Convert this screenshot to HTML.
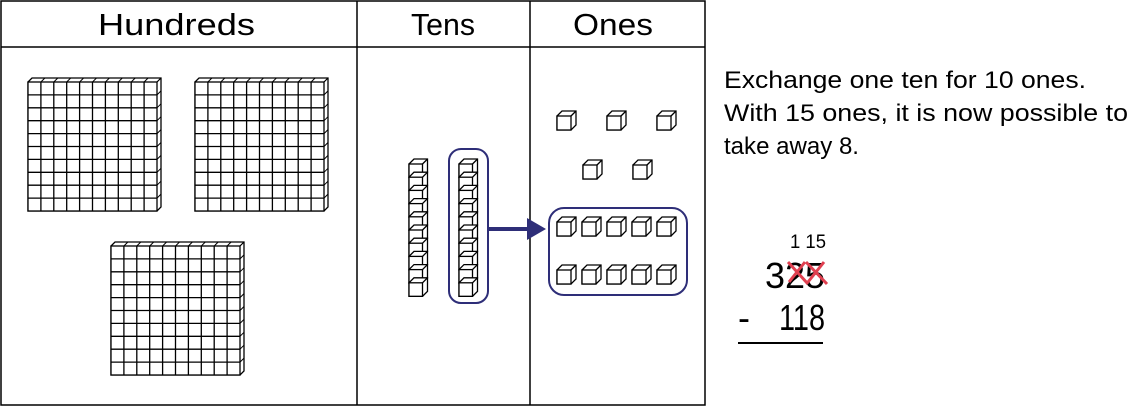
<!DOCTYPE html>
<html><head><meta charset="utf-8"><style>
html,body{margin:0;padding:0;background:#fff;width:1136px;height:406px;overflow:hidden}
svg{display:block}
text{font-family:"Liberation Sans",sans-serif;fill:#000}
</style></head><body>
<svg id="s" width="1136" height="406" viewBox="0 0 1136 406">
<rect x="1" y="1" width="704" height="404" fill="none" stroke="#000" stroke-width="1.5"/>
<line x1="1" y1="47" x2="705" y2="47" stroke="#000" stroke-width="1.5"/>
<line x1="357" y1="1" x2="357" y2="405" stroke="#000" stroke-width="1.5"/>
<line x1="530" y1="1" x2="530" y2="405" stroke="#000" stroke-width="1.5"/>
<text x="98" y="35" font-size="31" textLength="157" lengthAdjust="spacingAndGlyphs">Hundreds</text>
<text x="411" y="35" font-size="31" textLength="64" lengthAdjust="spacingAndGlyphs">Tens</text>
<text x="573" y="35" font-size="31" textLength="80" lengthAdjust="spacingAndGlyphs">Ones</text>
<rect x="449" y="149" width="39" height="154" rx="12" fill="none" stroke="#2e2e78" stroke-width="2"/>
<rect x="549" y="208" width="138" height="87" rx="15" fill="none" stroke="#2e2e78" stroke-width="2"/>
<line x1="488" y1="229" x2="530" y2="229" stroke="#2e2e78" stroke-width="4"/>
<polygon points="527,218 546,229 527,240" fill="#2e2e78"/>
<g id="g" fill="#fff" stroke="#000" stroke-width="1.3"></g>
<text x="724" y="88" font-size="24" textLength="362" lengthAdjust="spacingAndGlyphs">Exchange one ten for 10 ones.</text>
<text x="724" y="121" font-size="24" textLength="404" lengthAdjust="spacingAndGlyphs">With 15 ones, it is now possible to</text>
<text x="724" y="154" font-size="24" textLength="135" lengthAdjust="spacingAndGlyphs">take away 8.</text>
<text x="790" y="248" font-size="19" textLength="36" lengthAdjust="spacingAndGlyphs">1 15</text>
<text x="765" y="288" font-size="36" textLength="60" lengthAdjust="spacingAndGlyphs">325</text>
<g stroke="#e04050" stroke-width="3">
<line x1="788" y1="262" x2="808" y2="284"/>
<line x1="805" y1="262" x2="789" y2="282"/>
<line x1="806" y1="262" x2="827" y2="284"/>
<line x1="824" y1="262" x2="808" y2="282"/>
</g>
<text x="738" y="330" font-size="36">-</text>
<text x="779" y="330" font-size="36" textLength="46" lengthAdjust="spacingAndGlyphs">118</text>
<line x1="738" y1="343" x2="823" y2="343" stroke="#000" stroke-width="2"/>
</svg>
<script>
var g=document.getElementById('g'),h='';
function cube(x,y,w,d){
 h+='<polygon points="'+x+','+y+' '+(x+d)+','+(y-d)+' '+(x+w+d)+','+(y-d)+' '+(x+w+d)+','+(y+w-d)+' '+(x+w)+','+(y+w)+' '+x+','+(y+w)+'"/>';
 h+='<rect x="'+x+'" y="'+y+'" width="'+w+'" height="'+w+'"/>';
 h+='<line x1="'+(x+w)+'" y1="'+y+'" x2="'+(x+w+d)+'" y2="'+(y-d)+'"/>';
}
function flat(x,y){var c=12.9,d=4,W=c*10;
 h+='<polygon points="'+x+','+y+' '+(x+d)+','+(y-d)+' '+(x+W+d)+','+(y-d)+' '+(x+W+d)+','+(y+W-d)+' '+(x+W)+','+(y+W)+' '+x+','+(y+W)+'"/>';
 h+='<rect x="'+x+'" y="'+y+'" width="'+W+'" height="'+W+'"/>';
 for(var i=1;i<=10;i++){var p=x+i*c,q=y+i*c;
  if(i<10){h+='<line x1="'+p+'" y1="'+(y+W)+'" x2="'+p+'" y2="'+y+'"/>';
  h+='<line x1="'+x+'" y1="'+q+'" x2="'+(x+W)+'" y2="'+q+'"/>';}
  h+='<line x1="'+p+'" y1="'+y+'" x2="'+(p+d)+'" y2="'+(y-d)+'" stroke-width="1"/>';
  h+='<line x1="'+(x+W)+'" y1="'+(q-c)+'" x2="'+(x+W+d)+'" y2="'+(q-c-d)+'" stroke-width="1"/>';
 }}
function rod(x,y){var c=13.2;for(var i=0;i<10;i++)cube(x,y+i*c,13.5,5);}
flat(28,82);flat(195,82);flat(111,246);
rod(409,164);rod(459,164);
[[557,116],[607,116],[657,116],[583,165],[633,165]].forEach(function(p){cube(p[0],p[1],14,5)});
for(var k=0;k<5;k++){cube(557+k*25,222,14,5);cube(557+k*25,270,14,5);}
g.innerHTML=h;
</script>
</body></html>
